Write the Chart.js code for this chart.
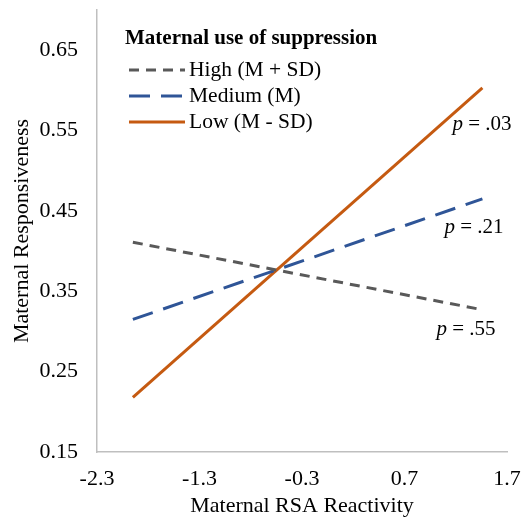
<!DOCTYPE html>
<html>
<head>
<meta charset="utf-8">
<script src="https://cdn.jsdelivr.net/npm/chart.js@4.4.0/dist/chart.umd.min.js"></script>
<style>
  html, body { margin: 0; padding: 0; background: #fff; }
  #wrap { width: 527px; height: 519px; }
</style>
</head>
<body>
<div id="wrap"><canvas id="myChart" width="527" height="519"></canvas></div>
<script>
// data
var rsaX = [-1.95, 1.46];
var highY = [0.411, 0.327];
var mediumY = [0.315, 0.465];
var lowY = [0.218, 0.603];
var seriesNames = ['High (M + SD)', 'Medium (M)', 'Low (M - SD)'];
var pLabels = ['p = .55', 'p = .21', 'p = .03'];
var xTicks = [-2.3, -1.3, -0.3, 0.7, 1.7];
var yTicks = [0.15, 0.25, 0.35, 0.45, 0.55, 0.65];

var FONT = '"Liberation Serif", "Times New Roman", serif';
var colors = ['#595959', '#2F5597', '#C55A11'];
var dashes = [[10, 7], [21, 11], []];

function pts(ys) {
  return rsaX.map(function (x, i) { return { x: x, y: ys[i] }; });
}

// legend + p-value labels drawn inside the plot
var notes = {
  id: 'notes',
  afterDraw: function (chart) {
    var ctx = chart.ctx;
    ctx.save();
    ctx.textBaseline = 'middle';
    ctx.fillStyle = '#000';
    ctx.font = 'bold 21px ' + FONT;
    ctx.fillText('Maternal use of suppression', 125, 39);
    ctx.font = '21.5px ' + FONT;
    var rows = [70, 96, 122];
    for (var i = 0; i < 3; i++) {
      ctx.beginPath();
      ctx.strokeStyle = colors[i];
      ctx.lineWidth = 3;
      ctx.setLineDash(dashes[i]);
      ctx.moveTo(129, rows[i]);
      ctx.lineTo(185, rows[i]);
      ctx.stroke();
      ctx.setLineDash([]);
      ctx.fillStyle = '#000';
      ctx.fillText(seriesNames[i], 189, rows[i]);
    }
    // p labels anchored to the line ends
    var xs = chart.scales.x, ys = chart.scales.y;
    var ends = [highY[1], mediumY[1], lowY[1]];
    var off = [[-46, 20], [-38, 29], [-30, 37]];
    for (var j = 0; j < 3; j++) {
      var px = xs.getPixelForValue(rsaX[1]) + off[j][0];
      var py = ys.getPixelForValue(ends[j]) + off[j][1];
      ctx.font = 'italic 21px ' + FONT;
      ctx.fillText('p', px, py);
      var w = ctx.measureText('p').width;
      ctx.font = '21px ' + FONT;
      ctx.fillText(pLabels[j].slice(1), px + w, py);
    }
    ctx.restore();
  }
};

var ctx = document.getElementById('myChart');
var chart = new Chart(ctx, {
  type: 'line',
  data: {
    datasets: [
      { label: seriesNames[0], data: pts(highY), borderColor: colors[0], borderDash: dashes[0], borderWidth: 3, pointRadius: 0 },
      { label: seriesNames[1], data: pts(mediumY), borderColor: colors[1], borderDash: dashes[1], borderWidth: 3, pointRadius: 0 },
      { label: seriesNames[2], data: pts(lowY), borderColor: colors[2], borderDash: dashes[2], borderWidth: 3, pointRadius: 0 }
    ]
  },
  options: {
    responsive: false,
    animation: false,
    layout: { padding: { top: 10, right: 20, left: 9, bottom: 0 } },
    plugins: { legend: { display: false }, tooltip: { enabled: false } },
    scales: {
      x: {
        type: 'linear',
        min: -2.3,
        max: 1.7,
        afterBuildTicks: function (s) { s.ticks = xTicks.map(function (v) { return { value: v }; }); },
        afterFit: function (s) { s.height = 67; s.paddingLeft = 0; s.paddingRight = 0; },
        grid: { display: false, drawTicks: false },
        border: { color: '#BFBFBF', width: 1.5 },
        ticks: { color: '#000', font: { family: FONT, size: 22 }, padding: 14, maxRotation: 0,
          callback: function (v) { return v.toFixed(1); } },
        title: { display: true, text: 'Maternal RSA Reactivity', color: '#000', font: { family: FONT, size: 22 }, padding: { top: 0, bottom: 0 } }
      },
      y: {
        min: 0.15,
        max: 0.70,
        afterBuildTicks: function (s) { s.ticks = yTicks.map(function (v) { return { value: v }; }); },
        afterFit: function (s) { s.width = 88; s.paddingTop = 0; s.paddingBottom = 0; },
        grid: { display: false, drawTicks: false },
        border: { color: '#BFBFBF', width: 1.5 },
        ticks: { color: '#000', font: { family: FONT, size: 22 }, padding: 19,
          callback: function (v) { return v.toFixed(2); } },
        title: { display: true, text: 'Maternal Responsiveness', color: '#000', font: { family: FONT, size: 22 }, padding: { top: 0, bottom: 0 } }
      }
    }
  },
  plugins: [notes]
});
</script>
</body>
</html>
